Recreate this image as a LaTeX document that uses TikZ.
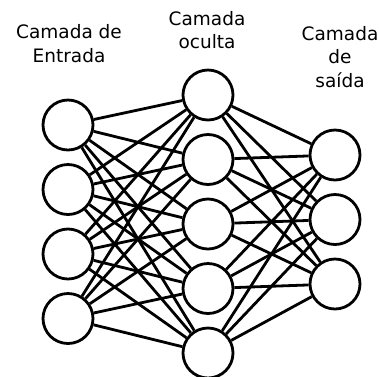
\documentclass[tikz,border=0pt]{standalone}
\usepackage{fontspec}
\setmainfont{DejaVu Sans}
\usetikzlibrary{positioning}

\begin{document}
\begin{tikzpicture}[x=1pt,y=-1pt,node distance=64.5pt,on grid,
    neuron/.style={circle,draw,line width=2.8pt,minimum size=50pt,inner sep=0pt},
    layername/.style={align=center,font=\fontsize{18.5}{23.5}\selectfont}]
   \useasboundingbox (0,0) rectangle (379,376);

   % camada de entrada
   \node[neuron] (i1) at (68,125) {};
   \node[neuron] (i2) [below=of i1] {};
   \node[neuron] (i3) [below=of i2] {};
   \node[neuron] (i4) [below=of i3] {};

   % camada oculta
   \node[neuron] (h1) at (208,95) {};
   \node[neuron] (h2) [below=of h1] {};
   \node[neuron] (h3) [below=of h2] {};
   \node[neuron] (h4) [below=of h3] {};
   \node[neuron] (h5) [below=of h4] {};

   % camada de saida
   \node[neuron] (o1) at (335,155) {};
   \node[neuron] (o2) [below=of o1] {};
   \node[neuron] (o3) [below=of o2] {};

   \node[layername] (li) at (69,43.5) {Camada de\\Entrada};
   \node[layername] (lh) at (207,30)  {Camada\\oculta};
   \node[layername] (lo) at (340,57)  {Camada\\de\\saída};

   \foreach \i in {1,...,4}
     \foreach \h in {1,...,5}
       \draw[line width=2.8pt] (i\i) -- (h\h);
   \foreach \h in {1,...,5}
     \foreach \o in {1,...,3}
       \draw[line width=2.8pt] (h\h) -- (o\o);
\end{tikzpicture}
\end{document}
